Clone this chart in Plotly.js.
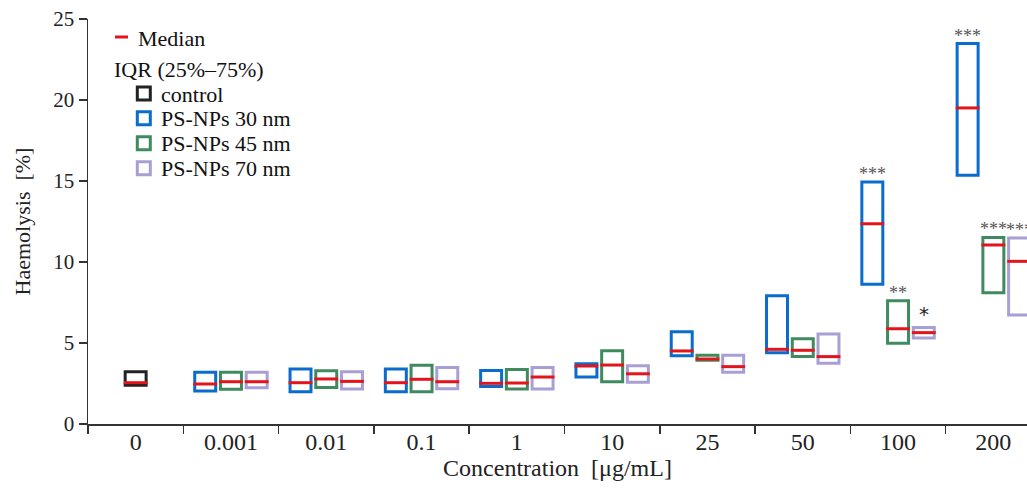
<!DOCTYPE html>
<html>
<head>
<meta charset="utf-8">
<script src="https://cdn.plot.ly/plotly-3.0.1.min.js"></script>
<style>html,body{margin:0;padding:0;background:#fff;}#chart{width:1027px;height:489px;}</style>
</head>
<body>
<div id="chart"></div>
<script>
// ---- data ----
const categories = ["0", "0.001", "0.01", "0.1", "1", "10", "25", "50", "100", "200"];

// control only at concentration 0
const controlCats = ["0"];
const controlQ1 = [2.39];
const controlMed = [2.55];
const controlQ3 = [3.23];

// PS-NPs series at concentrations 0.001 ... 200
const npCats = ["0.001", "0.01", "0.1", "1", "10", "25", "50", "100", "200"];

const nm30Q1  = [2.03, 1.99, 1.99, 2.32, 2.90, 4.22, 4.40, 8.62, 15.35];
const nm30Med = [2.47, 2.55, 2.55, 2.51, 3.58, 4.51, 4.61, 12.36, 19.51];
const nm30Q3  = [3.19, 3.40, 3.40, 3.31, 3.72, 5.70, 7.92, 14.94, 23.48];
const nm30Sig = ["", "", "", "", "", "", "", "***", "***"];

const nm45Q1  = [2.15, 2.26, 1.99, 2.16, 2.61, 3.94, 4.16, 4.98, 8.10];
const nm45Med = [2.61, 2.78, 2.76, 2.53, 3.64, 4.01, 4.55, 5.88, 11.05];
const nm45Q3  = [3.19, 3.29, 3.62, 3.37, 4.52, 4.25, 5.27, 7.61, 11.52];
const nm45Sig = ["", "", "", "", "", "", "", "**", "***"];

const nm70Q1  = [2.24, 2.16, 2.18, 2.16, 2.57, 3.19, 3.75, 5.31, 6.73];
const nm70Med = [2.61, 2.63, 2.61, 2.90, 3.10, 3.54, 4.16, 5.64, 10.04];
const nm70Q3  = [3.19, 3.23, 3.48, 3.48, 3.60, 4.24, 5.56, 5.95, 11.48];
const nm70Sig = ["", "", "", "", "", "", "", "*", "***"];

const seriesNames = ["control", "PS-NPs 30 nm", "PS-NPs 45 nm", "PS-NPs 70 nm"];
const legendMedianText = "Median";
const legendIqrText = "IQR (25%–75%)";

// ---- styling / layout constants ----
const COLORS = ["#222222", "#0a6ccc", "#3f8a5e", "#a99fd4"];
const OFFSETS = [0, -0.27, 0, 0.27];
const BOX_W = 0.22;
const MED_RED = "#e3141c";
const FONT = "Liberation Serif";
const W = 1027, H = 489;
const M = {l: 88, r: 0, t: 19, b: 65};
const PW = W - M.l - M.r, PH = H - M.t - M.b;
const px = x => (x - M.l) / PW;       // page pixel -> paper x
const py = y => (H - M.b - y) / PH;   // page pixel -> paper y

const idx = c => categories.indexOf(c);

const series = [
  {name: seriesNames[0], cats: controlCats, q1: controlQ1, med: controlMed, q3: controlQ3, sig: [""]},
  {name: seriesNames[1], cats: npCats, q1: nm30Q1, med: nm30Med, q3: nm30Q3, sig: nm30Sig},
  {name: seriesNames[2], cats: npCats, q1: nm45Q1, med: nm45Med, q3: nm45Q3, sig: nm45Sig},
  {name: seriesNames[3], cats: npCats, q1: nm70Q1, med: nm70Med, q3: nm70Q3, sig: nm70Sig}
];

const traces = [];
const medX = [], medY = [];
const annotations = [];
const shapes = [];

series.forEach((s, k) => {
  const xs = s.cats.map(c => idx(c) + OFFSETS[k]);
  traces.push({
    type: "bar",
    name: s.name,
    x: xs,
    base: s.q1,
    y: s.q3.map((v, i) => v - s.q1[i]),
    width: BOX_W,
    marker: {color: "rgba(0,0,0,0)", line: {color: COLORS[k], width: 3}},
    hoverinfo: "skip",
    showlegend: false
  });
  xs.forEach((x, i) => { medX.push(x); medY.push(s.med[i]); });
  s.sig.forEach((t, i) => {
    if (!t) return;
    const single = t === "*";
    annotations.push({
      x: xs[i], y: s.q3[i], xref: "x", yref: "y",
      text: t, showarrow: false, yanchor: "bottom",
      yshift: single ? 0 : -4,
      font: {family: single ? "DejaVu Sans" : FONT, size: single ? 20 : 18, color: single ? "#222" : "#555"}
    });
  });
});

const medianTrace = {
  type: "scatter",
  mode: "markers",
  name: legendMedianText,
  x: medX,
  y: medY,
  marker: {symbol: "line-ew", size: 17, color: MED_RED, line: {color: MED_RED, width: 3}},
  hoverinfo: "skip",
  showlegend: false
};

// ---- hand-built legend (layout decoration) ----
const LEG_FONT = {family: FONT, size: 22, color: "#111"};
shapes.push({type: "line", xref: "paper", yref: "paper", x0: px(115), x1: px(128), y0: py(37), y1: py(37),
  line: {color: MED_RED, width: 3}});
annotations.push({xref: "paper", yref: "paper", x: px(136), y: py(38), xanchor: "left", yanchor: "middle",
  text: legendMedianText, showarrow: false, font: LEG_FONT});
annotations.push({xref: "paper", yref: "paper", x: px(112), y: py(70), xanchor: "left", yanchor: "middle",
  text: legendIqrText, showarrow: false, font: LEG_FONT});
const rowY = [93.5, 118.3, 143.3, 168.3];
seriesNames.forEach((n, k) => {
  shapes.push({type: "rect", xref: "paper", yref: "paper",
    x0: px(137.3), x1: px(150.3), y0: py(rowY[k] - 6.5), y1: py(rowY[k] + 6.5),
    line: {color: COLORS[k], width: 3}, fillcolor: "rgba(0,0,0,0)"});
  annotations.push({xref: "paper", yref: "paper", x: px(159), y: py(rowY[k] + 0.5), xanchor: "left", yanchor: "middle",
    text: n, showarrow: false, font: LEG_FONT});
});

const data = traces.concat([medianTrace]);

const layout = {
  width: W,
  height: H,
  autosize: false,
  margin: {l: M.l, r: M.r, t: M.t, b: M.b, pad: 0},
  paper_bgcolor: "#ffffff",
  plot_bgcolor: "#ffffff",
  barmode: "overlay",
  showlegend: false,
  xaxis: {
    range: [-0.5, 9.353],
    tickmode: "array",
    tickvals: categories.map((c, i) => i),
    ticktext: categories,
    ticks: "",
    ticklabelstandoff: -4,
    showline: true, linecolor: "#333", linewidth: 1.5,
    showgrid: false, zeroline: false,
    automargin: false,
    tickfont: {family: FONT, size: 24, color: "#222"},
    minor: {tickmode: "linear", tick0: -0.5, dtick: 1, ticks: "outside", ticklen: 8, tickwidth: 1.5, tickcolor: "#333", showgrid: false},
    title: {text: "Concentration\u00a0 [μg/mL]", font: {family: FONT, size: 24, color: "#222"}, standoff: 4}
  },
  yaxis: {
    range: [0, 25],
    tickmode: "array",
    tickvals: [0, 5, 10, 15, 20, 25],
    ticks: "outside", ticklen: 8, tickwidth: 1.5, tickcolor: "#333",
    showline: true, linecolor: "#333", linewidth: 1.5,
    showgrid: false, zeroline: false,
    automargin: false,
    tickfont: {family: FONT, size: 21, color: "#222"},
    title: {text: "Haemolysis\u00a0 [%]", font: {family: FONT, size: 22, color: "#222"}, standoff: 16}
  },
  shapes: shapes,
  annotations: annotations
};

Plotly.newPlot("chart", data, layout, {displayModeBar: false, staticPlot: true});
</script>
</body>
</html>
